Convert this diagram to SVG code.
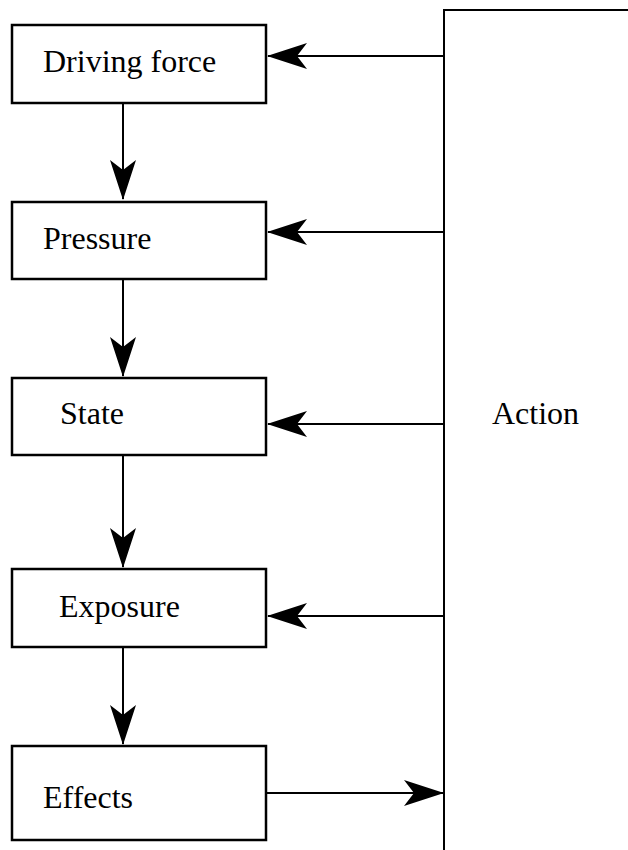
<svg xmlns="http://www.w3.org/2000/svg" width="628" height="850" viewBox="0 0 628 850">
<defs>
<style>
.box{fill:#fff;stroke:#000;stroke-width:2.5}
.ln{fill:none;stroke:#000;stroke-width:2}
.t{font-family:"Liberation Serif","Times New Roman",serif;font-size:32px;fill:#000}
</style>
<marker id="ah" viewBox="0 0 40 26" refX="39" refY="13" markerWidth="40" markerHeight="26" markerUnits="userSpaceOnUse" orient="auto">
<path d="M0,0 L40,13 L0,26 L10,13 Z" fill="#000"/>
</marker>
</defs>
<g id="action">
<path class="ln" d="M444,850 L444,10 L630,10" stroke-width="2.5"/>
<text class="t" x="492" y="424">Action</text>
</g>
<g id="driving-force">
<rect class="box" x="12" y="25" width="254" height="78"/>
<text class="t" x="43" y="72">Driving force</text>
</g>
<g id="pressure">
<rect class="box" x="12" y="202" width="254" height="77"/>
<text class="t" x="43" y="249">Pressure</text>
</g>
<g id="state">
<rect class="box" x="12" y="378" width="254" height="77"/>
<text class="t" x="60" y="424">State</text>
</g>
<g id="exposure">
<rect class="box" x="12" y="569" width="254" height="78"/>
<text class="t" x="59" y="617">Exposure</text>
</g>
<g id="effects">
<rect class="box" x="12" y="746" width="254" height="94"/>
<text class="t" x="43" y="808">Effects</text>
</g>
<g id="connectors">
<line class="ln" x1="123" y1="103" x2="123" y2="199" marker-end="url(#ah)"/>
<line class="ln" x1="123" y1="279" x2="123" y2="376" marker-end="url(#ah)"/>
<line class="ln" x1="123" y1="455" x2="123" y2="567" marker-end="url(#ah)"/>
<line class="ln" x1="123" y1="647" x2="123" y2="744" marker-end="url(#ah)"/>
<line class="ln" x1="444" y1="56" x2="268" y2="56" marker-end="url(#ah)"/>
<line class="ln" x1="444" y1="232" x2="268" y2="232" marker-end="url(#ah)"/>
<line class="ln" x1="444" y1="424" x2="268" y2="424" marker-end="url(#ah)"/>
<line class="ln" x1="444" y1="616" x2="268" y2="616" marker-end="url(#ah)"/>
<line class="ln" x1="266" y1="793" x2="443" y2="793" marker-end="url(#ah)"/>
</g>
</svg>
